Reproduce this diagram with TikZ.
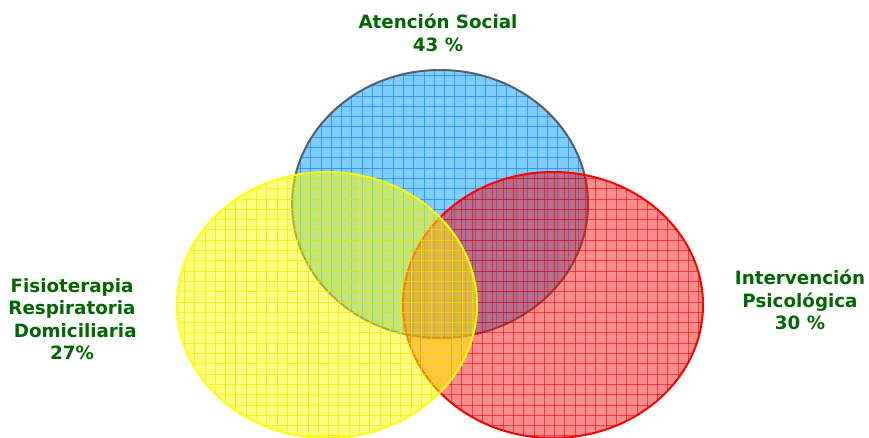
\documentclass[tikz,border=0pt]{standalone}
\usepackage{fontspec}
\setmainfont{DejaVu Sans}
\definecolor{labgreen}{HTML}{006600}
\definecolor{bfill}{HTML}{0099FF}
\definecolor{bgrid}{HTML}{1A8CFF}
\definecolor{bedge}{HTML}{505050}
\definecolor{rfill}{HTML}{FF0000}
\definecolor{rgrid}{HTML}{E00000}
\definecolor{yfill}{HTML}{FFFF00}
\definecolor{ygrid}{HTML}{EEEE00}
\begin{document}
\begin{tikzpicture}[x=1pt,y=-1pt,
  lbl/.style={text=labgreen, font=\bfseries\fontsize{18.3}{22.5}\selectfont, align=center, inner sep=0pt},
  gridlines/.style={line width=0.8pt, draw opacity=0.75}]
\useasboundingbox (0,0) rectangle (869,437);
% blue (Atención Social)
\fill[bfill, fill opacity=0.5] (440,204) ellipse [x radius=148, y radius=134];
\begin{scope}
  \clip (440,204) ellipse [x radius=148, y radius=134];
  \foreach \i in {0,...,30} {
    \draw[bgrid, gridlines] ({290+10.3*\i},60) -- ({290+10.3*\i},345);
    \draw[bgrid, gridlines] (285,{65+10.3*\i}) -- (595,{65+10.3*\i});
  }
\end{scope}
\draw[bedge, line width=2pt, draw opacity=0.9] (440,204) ellipse [x radius=148, y radius=134];
% red (Intervención Psicológica)
\fill[rfill, fill opacity=0.45] (553,305) ellipse [x radius=150, y radius=133];
\begin{scope}
  \clip (553,305) ellipse [x radius=150, y radius=133];
  \foreach \i in {0,...,30} {
    \draw[rgrid, gridlines, draw opacity=0.55] ({400+10.3*\i},165) -- ({400+10.3*\i},445);
    \draw[rgrid, gridlines, draw opacity=0.55] (398,{168+10.3*\i}) -- (710,{168+10.3*\i});
  }
\end{scope}
\draw[rfill, line width=2pt] (553,305) ellipse [x radius=150, y radius=133];
% yellow (Fisioterapia)
\fill[yfill, fill opacity=0.5] (327,305) ellipse [x radius=150, y radius=133];
\begin{scope}
  \clip (327,305) ellipse [x radius=150, y radius=133];
  \foreach \i in {0,...,30} {
    \draw[ygrid, gridlines, draw opacity=0.7] ({174+10.3*\i},165) -- ({174+10.3*\i},445);
    \draw[ygrid, gridlines, draw opacity=0.7] (172,{168+10.3*\i}) -- (482,{168+10.3*\i});
  }
\end{scope}
\draw[yfill, line width=2pt, draw opacity=0.95] (327,305) ellipse [x radius=150, y radius=133];
% labels
\node[lbl] (social) at (438,33) {Atención Social\\43 \%};
\node[lbl] (fisio) at (72,319) {Fisioterapia\\Respiratoria\\\hspace*{0.35em}Domiciliaria\\27\%};
\node[lbl] (psico) at (800,300) {Intervención\\Psicológica\\30 \%};
\end{tikzpicture}
\end{document}
